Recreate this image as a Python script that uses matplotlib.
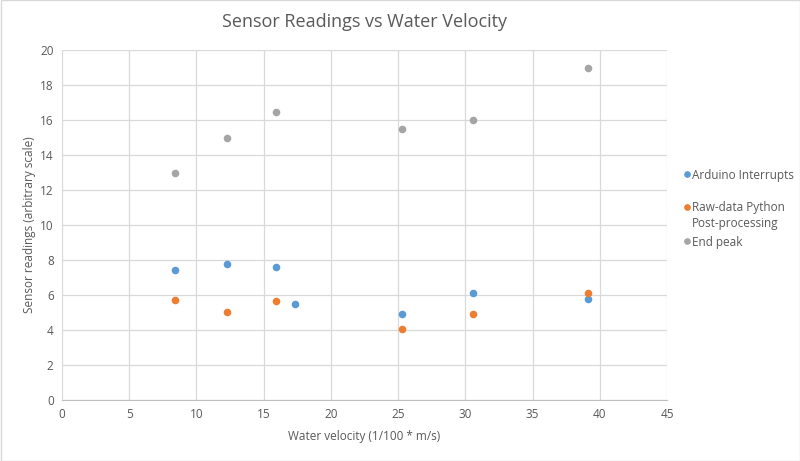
import matplotlib
matplotlib.use("Agg")
import matplotlib.pyplot as plt
from matplotlib.patches import Rectangle
from matplotlib.lines import Line2D

# Data
arduino_x = [8.4, 12.3, 15.9, 17.3, 25.3, 30.6, 39.1]
arduino_y = [7.45, 7.8, 7.62, 5.5, 4.93, 6.13, 5.79]
python_x = [8.4, 12.3, 15.9, 25.3, 30.6, 39.1]
python_y = [5.73, 5.05, 5.68, 4.07, 4.93, 6.09]
peak_x = [8.4, 12.3, 15.9, 25.3, 30.6, 39.1]
peak_y = [13.0, 15.0, 16.45, 15.5, 16.0, 18.95]
series_names = ["Arduino Interrupts", "Raw-data Python\nPost-processing", "End peak"]
title = "Sensor Readings vs Water Velocity"
xlabel = "Water velocity (1/100 * m/s)"
ylabel = "Sensor readings (arbitrary scale)"

plt.rcParams['font.family'] = ['Open Sans', 'DejaVu Sans']
txt = '#595959'

W, H = 800, 461
fig = plt.figure(figsize=(W/100, H/100), dpi=100)
ax = fig.add_axes([62/W, 1-400/H, (667-62)/W, (400-50)/H])

colors = ['#5B9BD5', '#ED7D31', '#A5A5A5']
for xs, ys, c, n in zip([arduino_x, python_x, peak_x], [arduino_y, python_y, peak_y], colors, series_names):
    ax.scatter(xs, ys, s=30, color=c, label=n, zorder=3, linewidths=0)

ax.set_xlim(0, 45)
ax.set_ylim(0, 20)
ax.set_xticks(range(0, 46, 5))
ax.set_yticks(range(0, 21, 2))
ax.grid(True, color='#d9d9d9', linewidth=0.9, zorder=0)
ax.set_axisbelow(True)
for s in ['top', 'right', 'left']:
    ax.spines[s].set_visible(False)
ax.spines['bottom'].set_color('#bfbfbf')
ax.tick_params(length=0, colors=txt, labelsize=8.5, pad=6)
for lab in ax.get_xticklabels() + ax.get_yticklabels():
    lab.set_color(txt)

fig.text(0.5*(62+667)/W, 1-22/H, title, ha='center', va='center', fontsize=13, color=txt)
fig.text((62+667)/2/W, 1-436/H, xlabel, ha='center', va='center', fontsize=8.5, color=txt)
fig.text(30/W, 1-225/H, ylabel, ha='center', va='center', rotation=90, fontsize=8.5, color=txt)

# Legend (Excel style: marker aligned with first text line)
leg_y = [174, 207, 241]
for name, c, yy in zip(series_names, colors, leg_y):
    fig.add_artist(Line2D([687/W], [1-yy/H], marker='o', markersize=3.8, color=c,
                          linestyle='none', transform=fig.transFigure))
    fig.text(692/W, 1-(yy-5.5)/H, name, ha='left', va='top', fontsize=8.5, color=txt,
             linespacing=1.3)

fig.patches.append(Rectangle((0.5/W, 0.5/H), 1-1/W, 1-1/H, transform=fig.transFigure,
                             fill=False, edgecolor='#d9d9d9', linewidth=1))

fig.savefig('out.png', dpi=100, facecolor='white')
